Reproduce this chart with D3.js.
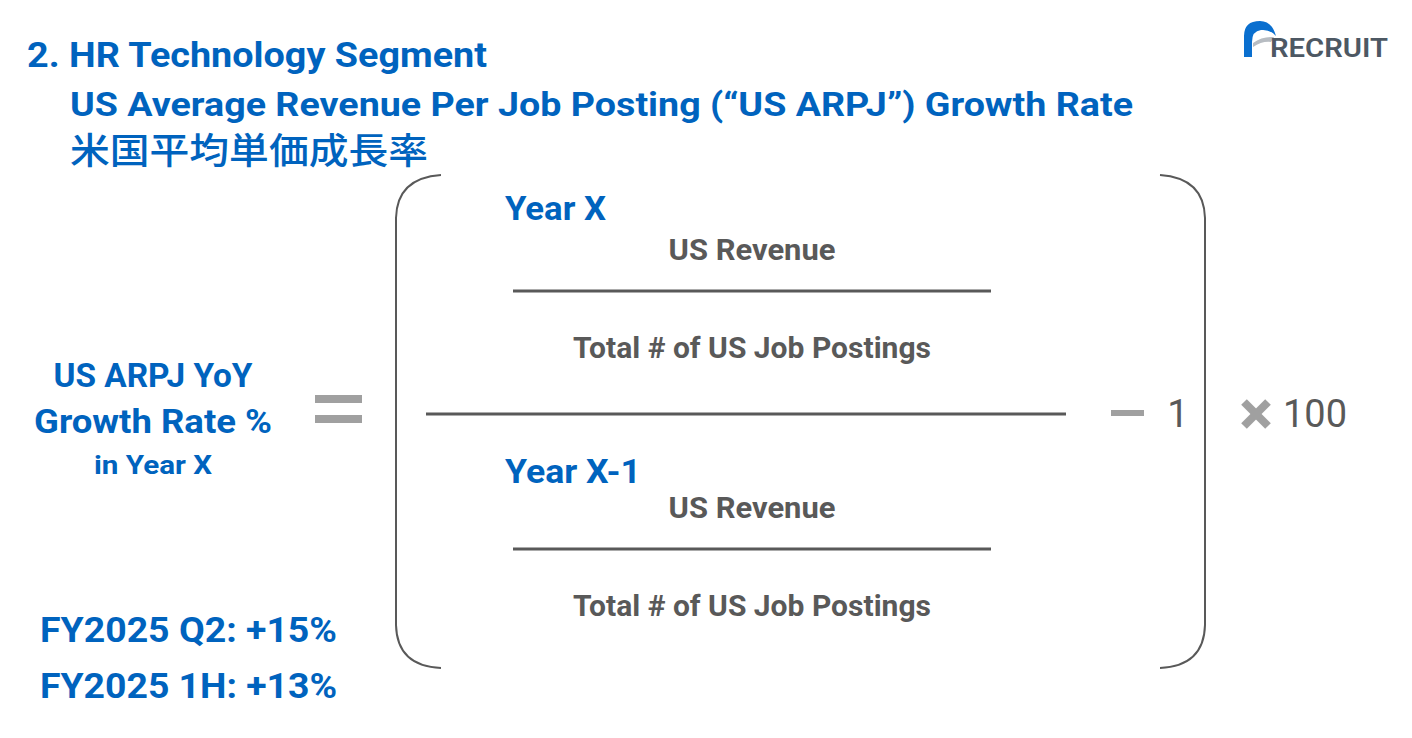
<!DOCTYPE html>
<html>
<head>
<meta charset="utf-8">
<script src="https://cdn.jsdelivr.net/npm/d3@7"></script>
<style>
  body { margin: 0; background: #fff; }
  svg { display: block; }
</style>
</head>
<body>
<div id="chart"></div>
<script>
// Texts of the slide
const titleLines = ["2. HR Technology Segment", "US Average Revenue Per Job Posting (\u201cUS ARPJ\u201d) Growth Rate", "米国平均単価成長率"];
const leftLabel = ["US ARPJ YoY", "Growth Rate %", "in Year X"];
const results = ["FY2025 Q2: +15%", "FY2025 1H: +13%"];
const fractionYears = ["Year X", "Year X-1"];
const fractionTerms = ["US Revenue", "Total # of US Job Postings"];
const tailTerms = ["1", "100"];

const width = 1412;
const height = 738;
const blue = "#0063be";
const dark = "#595959";
const gray = "#a0a0a0";
const font = "Roboto, 'Open Sans', sans-serif";

const svg = d3.select("#chart")
    .append("svg")
    .attr("width", width)
    .attr("height", height);

// helper: text with fixed width so the condensed look of the original is kept
function label(x, y, txt, size, color, anchor, w, weight) {
    const t = svg.append("text")
        .attr("x", x)
        .attr("y", y)
        .attr("font-family", font)
        .attr("font-size", size)
        .attr("font-weight", weight || 700)
        .attr("fill", color)
        .attr("text-anchor", anchor || "start")
        .text(txt);
    if (w) t.attr("textLength", w).attr("lengthAdjust", "spacingAndGlyphs");
    return t;
}

// title
label(27, 67, titleLines[0], 35, blue, "start", 460);
label(70, 116, titleLines[1], 34, blue, "start", 1063);
svg.append("text")
    .attr("x", 70).attr("y", 164)
    .attr("font-family", "'Noto Sans CJK JP', sans-serif")
    .attr("font-size", 36).attr("font-weight", 500)
    .attr("fill", blue)
    .attr("textLength", 358).attr("lengthAdjust", "spacingAndGlyphs")
    .text(titleLines[2]);

// logo
const logo = svg.append("g");
logo.append("path")
    .attr("d", "M1244,57 L1244,36 Q1244,21 1260,21 Q1272,21 1276,36 Q1270,29 1261,30 Q1252,31 1252,42 L1252,57 Z")
    .attr("fill", "#0a6fcf");
logo.append("path")
    .attr("d", "M1253,43 Q1262,36 1274,37 L1271,42 Q1262,41 1253,47 Z")
    .attr("fill", "#b7bcc2");
label(1270, 57, "RECRUIT", 26, "#4d5863", "start", 118, 600);

// left label
label(153, 387, leftLabel[0], 34, blue, "middle", 199);
label(153, 433, leftLabel[1], 34, blue, "middle", 238);
label(153, 474, leftLabel[2], 26, blue, "middle", 118);

// results
results.forEach((r, i) => label(40, 642 + i * 56, r, 35, blue, "start", 297));

// equals sign
[395, 415].forEach(y => svg.append("rect")
    .attr("x", 315).attr("y", y).attr("width", 47).attr("height", 8).attr("fill", gray));

// brackets
const br = svg.append("g").attr("fill", "none").attr("stroke", dark).attr("stroke-width", 2);
br.append("path").attr("d", "M441,175 Q397,178 396,218 L396,625 Q397,666 441,668");
br.append("path").attr("d", "M1160,175 Q1204,178 1205,218 L1205,625 Q1204,666 1160,668");

// main fraction line and inner lines
const lines = svg.append("g").attr("stroke", dark).attr("stroke-width", 3);
lines.append("line").attr("x1", 426).attr("x2", 1066).attr("y1", 414).attr("y2", 414);
[291, 549].forEach(y => lines.append("line").attr("x1", 513).attr("x2", 991).attr("y1", y).attr("y2", y));

// fraction texts (numerator block and denominator block)
const yearBase = [220, 483];
const revBase = [260, 518];
const postBase = [358, 616];
fractionYears.forEach((yr, i) => {
    label(505, yearBase[i], yr, 34, blue, "start", i ? 136 : 101);
    label(752, revBase[i], fractionTerms[0], 29, dark, "middle", 167);
    label(752, postBase[i], fractionTerms[1], 29, dark, "middle", 358);
});

// minus one, times hundred
svg.append("rect").attr("x", 1111).attr("y", 410).attr("width", 33).attr("height", 6).attr("fill", gray);
label(1178, 427, tailTerms[0], 38, dark, "middle", null, 400);
const cross = svg.append("g").attr("stroke", gray).attr("stroke-width", 8).attr("stroke-linecap", "butt");
cross.append("line").attr("x1", 1244).attr("y1", 402).attr("x2", 1268).attr("y2", 426);
cross.append("line").attr("x1", 1268).attr("y1", 402).attr("x2", 1244).attr("y2", 426);
label(1283, 427, tailTerms[1], 38, dark, "start", 64, 400);
</script>
</body>
</html>
